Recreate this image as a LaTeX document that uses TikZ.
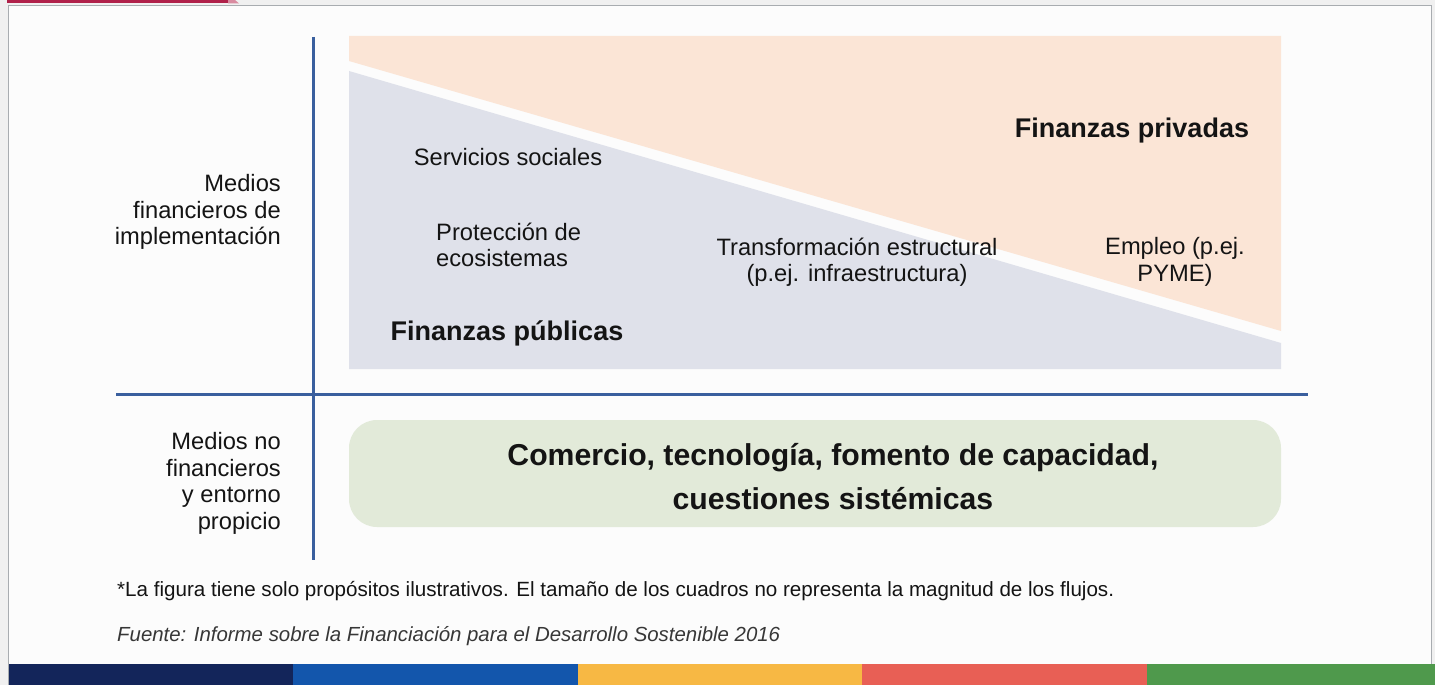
\documentclass[tikz,border=0pt]{standalone}
\usepackage{fontspec}
\setmainfont{Liberation Sans}
\definecolor{outerbg}{HTML}{F0F0F0}
\definecolor{framebg}{HTML}{FCFCFC}
\definecolor{framegray}{HTML}{A8ACB0}
\definecolor{topred}{HTML}{B0214A}
\definecolor{toppink}{HTML}{D98BA0}
\definecolor{orangefill}{HTML}{FBE5D6}
\definecolor{grayfill}{HTML}{DFE1EA}
\definecolor{greenfill}{HTML}{E2EAD9}
\definecolor{axisblue}{HTML}{3A5F9E}
\definecolor{txt}{HTML}{141414}
\definecolor{barA}{HTML}{13255A}
\definecolor{barB}{HTML}{1356AC}
\definecolor{barC}{HTML}{F7B844}
\definecolor{barD}{HTML}{E85F55}
\definecolor{barE}{HTML}{4F994C}
\begin{document}
\begin{tikzpicture}[x=1pt,y=-1pt,
  lbl/.style={inner sep=0pt, text=txt, font=\fontsize{23.7}{26.5}\selectfont},
  sidelbl/.style={lbl, anchor=east, align=right},
  big/.style={inner sep=0pt, text=txt, font=\fontsize{27}{32}\selectfont\bfseries},
  axis/.style={draw=axisblue, line width=3pt},
  greenbox/.style={fill=greenfill, rounded corners=28pt, minimum width=932pt, minimum height=107pt, inner sep=0pt},
  foot/.style={inner sep=0pt, anchor=west, text=txt, font=\fontsize{20.6}{22}\selectfont}
]
\useasboundingbox (0,0) rectangle (1435,685);
\fill[outerbg] (0,0) rectangle (1435,685);
\filldraw[fill=framebg, draw=framegray, line width=1pt] (8,6) rectangle (1431,700);
\fill[topred] (7,0) rectangle (228,3.4);
\fill[toppink] (228,0) -- (235,0) -- (239,3.4) -- (228,3.4) -- cycle;
% bottom bar
\fill[barA] (9,664) rectangle (293,685);
\fill[barB] (293,664) rectangle (578,685);
\fill[barC] (578,664) rectangle (862,685);
\fill[barD] (862,664) rectangle (1147,685);
\fill[barE] (1147,664) rectangle (1435,685);
% wedges
\fill[orangefill] (349,36) -- (1281,36) -- (1281,331) -- (349,61) -- cycle;
\fill[grayfill] (349,71) -- (1281,343) -- (1281,369) -- (349,369) -- cycle;
% axes
\coordinate (vtop) at (313,37);
\coordinate (vbot) at (313,560);
\coordinate (hl) at (116,394);
\coordinate (hr) at (1308,394);
\draw[axis] (vtop) -- (vbot);
\draw[axis] (hl) -- (hr);
% green box
\node[greenbox] (gbox) at (815,473.5) {};
\node[inner sep=0pt, text=txt, align=center, font=\fontsize{30.2}{44}\selectfont\bfseries] (comercio) at (833,477) {Comercio, tecnología, fomento de capacidad,\\cuestiones sistémicas};
% labels
\node[sidelbl] (mf) at (281,212) {Medios\\financieros de\\implementación};
\node[sidelbl] (mnf) at (281,483.5) {Medios no\\financieros\\y entorno\\propicio};
\node[lbl] (serv) at (508,157) {Servicios sociales};
\node[lbl, anchor=west, align=left] (prot) at (436,245) {Protección de\\ecosistemas};
\node[lbl, align=center] (trans) at (857,262) {Transformación estructural\\(p.ej. infraestructura)};
\node[lbl, align=center] (empl) at (1175,262) {Empleo (p.ej.\\PYME)};
\node[big] (fpriv) at (1132,131) {Finanzas privadas};
\node[big] (fpub) at (507,333) {Finanzas públicas};
% footnotes
\node[foot] (nota) at (117,591) {*La figura tiene solo propósitos ilustrativos. El tamaño de los cuadros no representa la magnitud de los flujos.};
\node[foot, text=txt!85, font=\fontsize{20.4}{22}\selectfont\itshape] (fuente) at (117,636) {Fuente: Informe sobre la Financiación para el Desarrollo Sostenible 2016};
\end{tikzpicture}
\end{document}
